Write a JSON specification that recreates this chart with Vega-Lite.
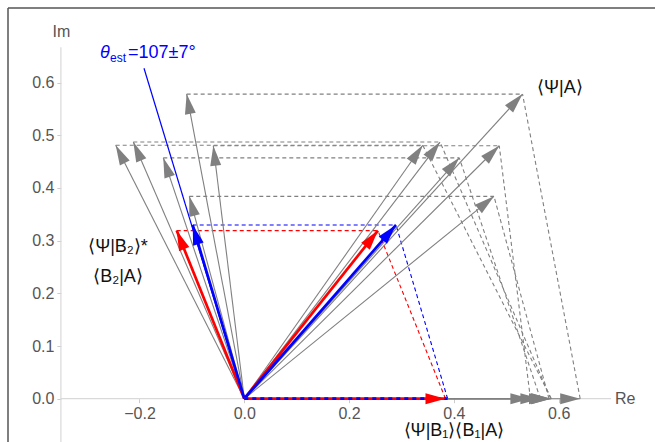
{
  "$schema": "https://vega.github.io/schema/vega-lite/v6.json",
  "width": 647,
  "height": 434,
  "autosize": {"type": "none"},
  "padding": {"left": 8, "top": 8, "right": 0, "bottom": 0},
  "background": "white",
  "config": {"view": {"stroke": null}, "font": "Liberation Sans"},
  "datasets": {
    "frame": [
      {"x": -0.45095, "y": -0.08216, "x2": -0.45095, "y2": 0.74137},
      {"x": -0.45095, "y": 0.74137, "x2": 0.78378, "y2": 0.74137}
    ],
    "axes": [
      {"x": -0.35, "y": -0.08216, "x2": -0.35, "y2": 0.667},
      {"x": -0.35, "y": 0, "x2": 0.70, "y2": 0}
    ],
    "arrows": [
      {"g": "gray", "x": -0.110, "y": 0.578},
      {"g": "gray", "x": 0.531, "y": 0.578},
      {"g": "gray", "x": 0.641, "y": 0},
      {"g": "gray", "x": -0.2454, "y": 0.481},
      {"g": "gray", "x": 0.3405, "y": 0.481},
      {"g": "gray", "x": 0.586, "y": 0},
      {"g": "gray", "x": -0.2118, "y": 0.487},
      {"g": "gray", "x": 0.3735, "y": 0.487},
      {"g": "gray", "x": 0.585, "y": 0},
      {"g": "gray", "x": -0.1546, "y": 0.457},
      {"g": "gray", "x": 0.4103, "y": 0.457},
      {"g": "gray", "x": 0.565, "y": 0},
      {"g": "gray", "x": -0.0592, "y": 0.480},
      {"g": "gray", "x": 0.4866, "y": 0.480},
      {"g": "gray", "x": 0.546, "y": 0},
      {"g": "gray", "x": -0.105, "y": 0.384},
      {"g": "gray", "x": 0.4765, "y": 0.384},
      {"g": "gray", "x": 0.5815, "y": 0},
      {"g": "red", "x": -0.129, "y": 0.319},
      {"g": "red", "x": 0.255, "y": 0.319},
      {"g": "blue", "x": -0.0985, "y": 0.3296},
      {"g": "blue", "x": 0.2895, "y": 0.3296},
      {"g": "red", "x": 0.384, "y": 0}
    ],
    "dashes": [
      {"g": "gray", "x": -0.110, "y": 0.578, "x2": 0.531, "y2": 0.578},
      {"g": "gray", "x": 0.641, "y": 0, "x2": 0.531, "y2": 0.578},
      {"g": "gray", "x": -0.2454, "y": 0.481, "x2": 0.3405, "y2": 0.481},
      {"g": "gray", "x": 0.586, "y": 0, "x2": 0.3405, "y2": 0.481},
      {"g": "gray", "x": -0.2118, "y": 0.487, "x2": 0.3735, "y2": 0.487},
      {"g": "gray", "x": 0.585, "y": 0, "x2": 0.3735, "y2": 0.487},
      {"g": "gray", "x": -0.1546, "y": 0.457, "x2": 0.4103, "y2": 0.457},
      {"g": "gray", "x": 0.565, "y": 0, "x2": 0.4103, "y2": 0.457},
      {"g": "gray", "x": -0.0592, "y": 0.480, "x2": 0.4866, "y2": 0.480},
      {"g": "gray", "x": 0.546, "y": 0, "x2": 0.4866, "y2": 0.480},
      {"g": "gray", "x": -0.105, "y": 0.384, "x2": 0.4765, "y2": 0.384},
      {"g": "gray", "x": 0.5815, "y": 0, "x2": 0.4765, "y2": 0.384},
      {"g": "red", "x": -0.129, "y": 0.319, "x2": 0.255, "y2": 0.319},
      {"g": "red", "x": 0.384, "y": 0, "x2": 0.255, "y2": 0.319},
      {"g": "blue", "x": -0.0985, "y": 0.3296, "x2": 0.2895, "y2": 0.3296},
      {"g": "blue", "x": 0.388, "y": 0, "x2": 0.2895, "y2": 0.3296}
    ],
    "axisblue": [
      {"x": 0, "y": 0, "x2": 0.388, "y2": 0}
    ],
    "estimate": [
      {"x": -0.1914, "y": 0.627}
    ],
    "labels": [
      {"kind": "black", "text": "⟨Ψ|A⟩", "x": 0.5586, "y": 0.580},
      {"kind": "blackc", "text": "⟨Ψ|B₂⟩*", "x": -0.241, "y": 0.278},
      {"kind": "blackc", "text": "⟨B₂|A⟩", "x": -0.241, "y": 0.221},
      {"kind": "blackc", "text": "⟨Ψ|B₁⟩⟨B₁|A⟩", "x": 0.400, "y": -0.0717}
    ]
  },
  "layer": [
    {
      "data": {"name": "frame"},
      "mark": {"type": "rule", "color": "#555555", "strokeWidth": 1.5},
      "encoding": {
        "x": {"field": "x", "type": "quantitative", "scale": {"domain": [-0.45095, 0.78378], "nice": false, "zero": false},
          "axis": {"domain": false, "grid": false, "title": null, "offset": -43.3, "orient": "bottom",
            "values": [-0.2, 0, 0.2, 0.4, 0.6], "format": ".1f",
            "labelFontSize": 16, "labelColor": "#555555", "labelFont": "Liberation Sans", "labelPadding": 3,
            "tickColor": "#cccccc", "tickSize": 4, "tickWidth": 1, "labelFlush": false}},
        "y": {"field": "y", "type": "quantitative", "scale": {"domain": [-0.08216, 0.74137], "nice": false, "zero": false},
          "axis": {"domain": false, "grid": false, "title": null, "offset": -52.9, "orient": "left",
            "values": [0, 0.1, 0.2, 0.3, 0.4, 0.5, 0.6], "format": ".1f",
            "labelFontSize": 16, "labelColor": "#555555", "labelFont": "Liberation Sans", "labelPadding": 3,
            "tickColor": "#cccccc", "tickSize": 4, "tickWidth": 1, "labelFlush": false}},
        "x2": {"field": "x2"},
        "y2": {"field": "y2"}
      }
    },
    {
      "data": {"name": "axes"},
      "mark": {"type": "rule", "color": "#d9d9d9", "strokeWidth": 1.2},
      "encoding": {
        "x": {"field": "x", "type": "quantitative"},
        "y": {"field": "y", "type": "quantitative"},
        "x2": {"field": "x2"},
        "y2": {"field": "y2"}
      }
    },
    {
      "data": {"name": "dashes"},
      "mark": {"type": "rule", "strokeWidth": 1.1, "strokeDash": [4, 3]},
      "encoding": {
        "x": {"field": "x", "type": "quantitative"},
        "y": {"field": "y", "type": "quantitative"},
        "x2": {"field": "x2"},
        "y2": {"field": "y2"},
        "color": {"field": "g", "type": "nominal", "scale": {"domain": ["gray", "red", "blue"], "range": ["#808080", "#ff0000", "#0000ff"]}, "legend": null}
      }
    },
    {
      "data": {"name": "estimate"},
      "mark": {"type": "rule", "color": "#0000ff", "strokeWidth": 1.2},
      "encoding": {
        "x": {"field": "x", "type": "quantitative"},
        "y": {"field": "y", "type": "quantitative"},
        "x2": {"datum": 0},
        "y2": {"datum": 0}
      }
    },
    {
      "data": {"name": "arrows"},
      "transform": [{"filter": "datum.g == 'gray'"}],
      "mark": {"type": "rule", "color": "#808080", "strokeWidth": 1.1},
      "encoding": {
        "x": {"field": "x", "type": "quantitative"},
        "y": {"field": "y", "type": "quantitative"},
        "x2": {"datum": 0},
        "y2": {"datum": 0}
      }
    },
    {
      "data": {"name": "arrows"},
      "transform": [{"filter": "datum.g != 'gray'"}],
      "mark": {"type": "rule", "strokeWidth": 2.7},
      "encoding": {
        "x": {"field": "x", "type": "quantitative"},
        "y": {"field": "y", "type": "quantitative"},
        "x2": {"datum": 0},
        "y2": {"datum": 0},
        "color": {"field": "g", "type": "nominal", "scale": {"domain": ["gray", "red", "blue"], "range": ["#808080", "#ff0000", "#0000ff"]}, "legend": null}
      }
    },
    {
      "data": {"name": "axisblue"},
      "mark": {"type": "rule", "strokeWidth": 2.7, "strokeDash": [4, 4], "color": "#0000ff"},
      "encoding": {
        "x": {"field": "x", "type": "quantitative"},
        "y": {"field": "y", "type": "quantitative"},
        "x2": {"field": "x2"},
        "y2": {"field": "y2"}
      }
    },
    {
      "data": {"name": "arrows"},
      "transform": [{"calculate": "atan2(datum.x * 524, datum.y * 527) * 180 / PI", "as": "ang"}],
      "mark": {"type": "point", "filled": true, "opacity": 1, "strokeWidth": 0, "size": 400, "shape": "M0,0L-0.55,2L0.55,2Z"},
      "encoding": {
        "x": {"field": "x", "type": "quantitative"},
        "y": {"field": "y", "type": "quantitative"},
        "angle": {"field": "ang", "type": "quantitative", "scale": {"domain": [-360, 360], "range": [-360, 360]}},
        "color": {"field": "g", "type": "nominal", "scale": {"domain": ["gray", "red", "blue"], "range": ["#808080", "#ff0000", "#0000ff"]}, "legend": null}
      }
    },
    {
      "data": {"name": "labels"},
      "transform": [{"filter": "datum.kind == 'black'"}],
      "mark": {"type": "text", "align": "left", "baseline": "alphabetic", "fontSize": 18, "color": "#111111", "font": "Liberation Sans"},
      "encoding": {
        "x": {"field": "x", "type": "quantitative"},
        "y": {"field": "y", "type": "quantitative"},
        "text": {"field": "text"}
      }
    },
    {
      "data": {"name": "labels"},
      "transform": [{"filter": "datum.kind == 'blackc'"}],
      "mark": {"type": "text", "align": "center", "baseline": "alphabetic", "fontSize": 18, "color": "#111111", "font": "Liberation Sans"},
      "encoding": {
        "x": {"field": "x", "type": "quantitative"},
        "y": {"field": "y", "type": "quantitative"},
        "text": {"field": "text"}
      }
    },
    {
      "data": {"values": [{"text": "Im", "x": -0.349, "y": 0.686}]},
      "mark": {"type": "text", "align": "center", "baseline": "alphabetic", "fontSize": 16, "color": "#555555", "font": "Liberation Sans"},
      "encoding": {
        "x": {"field": "x", "type": "quantitative"},
        "y": {"field": "y", "type": "quantitative"},
        "text": {"field": "text"}
      }
    },
    {
      "data": {"values": [{"text": "Re", "x": 0.7075, "y": 0}]},
      "mark": {"type": "text", "align": "left", "baseline": "middle", "fontSize": 16, "color": "#555555", "font": "Liberation Sans"},
      "encoding": {
        "x": {"field": "x", "type": "quantitative"},
        "y": {"field": "y", "type": "quantitative"},
        "text": {"field": "text"}
      }
    },
    {
      "data": {"values": [{"text": "θ", "x": -0.2754, "y": 0.646}]},
      "mark": {"type": "text", "align": "left", "baseline": "alphabetic", "fontSize": 18, "fontStyle": "italic", "color": "#0000ff", "font": "Liberation Sans"},
      "encoding": {
        "x": {"field": "x", "type": "quantitative"},
        "y": {"field": "y", "type": "quantitative"},
        "text": {"field": "text"}
      }
    },
    {
      "data": {"values": [{"text": "est", "x": -0.2754, "y": 0.646}]},
      "mark": {"type": "text", "align": "left", "baseline": "alphabetic", "fontSize": 12, "dx": 10, "dy": 4, "color": "#0000ff", "font": "Liberation Sans"},
      "encoding": {
        "x": {"field": "x", "type": "quantitative"},
        "y": {"field": "y", "type": "quantitative"},
        "text": {"field": "text"}
      }
    },
    {
      "data": {"values": [{"text": "=107±7°", "x": -0.2754, "y": 0.646}]},
      "mark": {"type": "text", "align": "left", "baseline": "alphabetic", "fontSize": 18, "dx": 28, "color": "#0000ff", "font": "Liberation Sans"},
      "encoding": {
        "x": {"field": "x", "type": "quantitative"},
        "y": {"field": "y", "type": "quantitative"},
        "text": {"field": "text"}
      }
    }
  ]
}
